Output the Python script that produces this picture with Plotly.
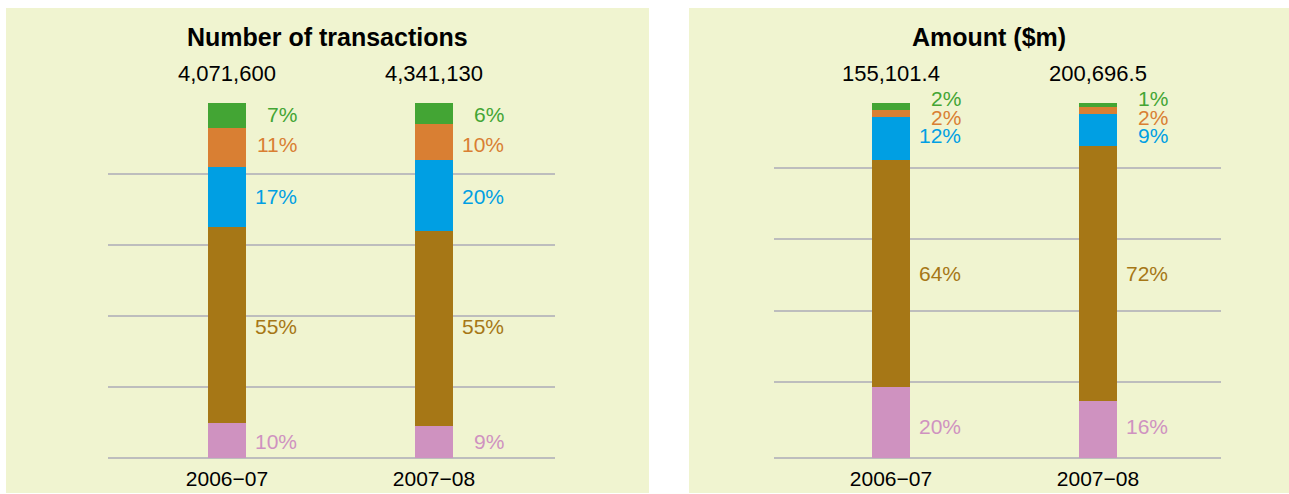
import plotly.graph_objects as go

# ---------------- data ----------------
years = ["2006\u221207", "2007\u221208"]
segment_names = ["Segment 1", "Segment 2", "Segment 3", "Segment 4", "Segment 5"]  # bottom -> top

# Number of transactions (% shares, bottom -> top)
tx_pink = [10, 9]
tx_brown = [55, 55]
tx_blue = [17, 20]
tx_orange = [11, 10]
tx_green = [7, 6]
tx_totals = ["4,071,600", "4,341,130"]

# Amount ($m) (% shares, bottom -> top)
amt_pink = [20, 16]
amt_brown = [64, 72]
amt_blue = [12, 9]
amt_orange = [2, 2]
amt_green = [2, 1]
amt_totals = ["155,101.4", "200,696.5"]

titles = ["Number of transactions", "Amount ($m)"]
tx_gridlines = [0, 20, 40, 60, 80]
amt_gridlines = [0, 21.4, 41.4, 61.7, 81.7]

# ---------------- style ----------------
colors = ["#CF92C0", "#A67716", "#009FE3", "#D97F33", "#43A534"]
panel_bg = "#F0F4D0"
grid_col = "#BDBDBD"
FONT = "Liberation Sans, Arial, Helvetica, sans-serif"
W, H = 1289, 494

def px_x(p):
    return p / W

def px_y(p):
    return 1 - p / H

BAR_W_PX = 38
UNIT_PX = 207.0  # pixels between bar centres
Y_BASE_PX, Y_TOP_PX = 458, 103
LABEL_OFFSET_PX = 53

panels = [
    dict(series=[tx_pink, tx_brown, tx_blue, tx_orange, tx_green], totals=tx_totals,
         title=titles[0], grid=tx_gridlines, plot_x=(108, 555), bar0=227,
         bg=(6, 649), xa="x", ya="y"),
    dict(series=[amt_pink, amt_brown, amt_blue, amt_orange, amt_green], totals=amt_totals,
         title=titles[1], grid=amt_gridlines, plot_x=(774, 1221), bar0=891,
         bg=(689, 1289), xa="x2", ya="y2"),
]

fig = go.Figure()
annotations = []
shapes = []
layout_axes = {}

y_dom = [px_y(Y_BASE_PX), px_y(Y_TOP_PX)]

def val_to_paper(v):
    return y_dom[0] + v / 100.0 * (y_dom[1] - y_dom[0])

def label_positions(series, gap=5.2):
    # mean segment centre across the bars, then spread labels apart
    n = len(series[0])
    pos = []
    for k in range(len(series)):
        cs = []
        for i in range(n):
            base = sum(series[j][i] for j in range(k))
            cs.append(base + series[k][i] / 2.0)
        pos.append(sum(cs) / n)
    for _ in range(200):
        for k in range(1, len(pos)):
            d = pos[k] - pos[k - 1]
            if d < gap:
                push = (gap - d) / 2.0
                pos[k] += push
                pos[k - 1] -= push
    return pos

for idx, p in enumerate(panels):
    xs = [0, 1]
    for k, vals in enumerate(p["series"]):
        fig.add_trace(go.Bar(
            x=xs, y=vals, name=segment_names[k],
            marker=dict(color=colors[k], line=dict(width=0)),
            width=BAR_W_PX / UNIT_PX, xaxis=p["xa"], yaxis=p["ya"],
            showlegend=False, hoverinfo="skip"))
    x0, x1 = p["plot_x"]
    xr = [(x0 - p["bar0"]) / UNIT_PX, (x1 - p["bar0"]) / UNIT_PX]
    sfx = "" if idx == 0 else "2"
    layout_axes["xaxis" + sfx] = dict(
        domain=[px_x(x0), px_x(x1)], range=xr, tickvals=xs, ticktext=years,
        showgrid=False, zeroline=False, showline=False, ticks="outside",
        ticklen=2, tickcolor="rgba(0,0,0,0)",
        tickfont=dict(family=FONT, size=21, color="#000000"),
        anchor="y" + sfx, fixedrange=True)
    layout_axes["yaxis" + sfx] = dict(
        domain=y_dom, range=[0, 100], tickvals=p["grid"], showticklabels=False,
        showgrid=True, gridcolor=grid_col, gridwidth=2,
        zeroline=True, zerolinecolor=grid_col, zerolinewidth=2,
        showline=False, anchor="x" + sfx, fixedrange=True)

    # panel background
    bx0, bx1 = p["bg"]
    shapes.append(dict(type="rect", xref="paper", yref="paper",
                       x0=px_x(bx0), x1=px_x(bx1), y0=px_y(493), y1=px_y(8),
                       fillcolor=panel_bg, line=dict(width=0), layer="below"))
    # title
    annotations.append(dict(xref="paper", yref="paper", x=px_x((bx0 + bx1) / 2),
                            y=px_y(37), text="<b>%s</b>" % p["title"], showarrow=False,
                            xanchor="center", yanchor="middle",
                            font=dict(family=FONT, size=25, color="#000000")))
    # totals above bars
    for i, t in enumerate(p["totals"]):
        annotations.append(dict(xref=p["xa"], yref="paper", x=xs[i], y=px_y(74), text=t,
                                showarrow=False, xanchor="center", yanchor="middle",
                                font=dict(family=FONT, size=22, color="#000000")))
    # percentage labels
    ly = label_positions(p["series"])
    for k, vals in enumerate(p["series"]):
        for i, v in enumerate(vals):
            annotations.append(dict(xref=p["xa"], yref="paper",
                                    x=xs[i] + (BAR_W_PX / 2 + LABEL_OFFSET_PX) / UNIT_PX,
                                    y=val_to_paper(ly[k]),
                                    text="%d%%" % v, showarrow=False,
                                    xanchor="right", yanchor="middle",
                                    font=dict(family=FONT, size=21, color=colors[k])))

fig.update_layout(
    width=W, height=H, margin=dict(l=0, r=0, t=0, b=0),
    paper_bgcolor="#FFFFFF", plot_bgcolor="rgba(0,0,0,0)",
    barmode="stack", bargap=0, showlegend=False,
    annotations=annotations, shapes=shapes, **layout_axes)

fig.write_html("out.html", config={"displayModeBar": False},
               post_script="document.body.style.margin='0px';document.body.style.padding='0px';")
